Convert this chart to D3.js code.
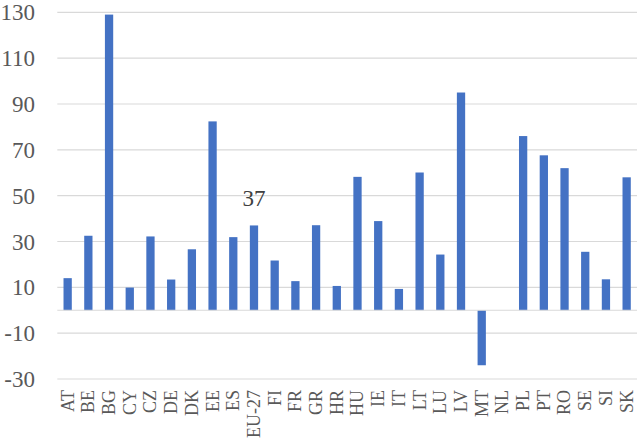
<!DOCTYPE html>
<html>
<head>
<meta charset="utf-8">
<script src="https://cdn.jsdelivr.net/npm/d3@7"></script>
<style>
  body { margin: 0; background: #fff; }
  text { font-family: "Liberation Serif", "Times New Roman", serif; }
</style>
</head>
<body>
<div id="main-content"></div>
<script>
// category codes along the x axis
const countries = ["AT","BE","BG","CY","CZ","DE","DK","EE","ES","EU-27","FI","FR","GR","HR",
  "HU","IE","IT","LT","LU","LV","MT","NL","PL","PT","RO","SE","SI","SK"];
// bar values
const values = [14, 32.5, 129, 9.9, 32.2, 13.4, 26.6, 82.4, 31.9, 37, 21.7, 12.7, 37.1, 10.6,
  58.2, 38.9, 9.3, 60.1, 24.3, 95, -24, 0, 76, 67.6, 62, 25.5, 13.5, 58];
const yTicks = [130, 110, 90, 70, 50, 30, 10, -10, -30];
const labelled = ["EU-27"];

const width = 640, height = 441;
const margin = {top: 12.3, right: 3, bottom: 62, left: 57.3};

const svg = d3.select("#main-content")
  .append("svg")
  .attr("width", width)
  .attr("height", height);

const x = d3.scaleBand()
  .domain(countries)
  .range([margin.left, width - margin.right])
  .paddingInner(0.6)
  .paddingOuter(0.3);

const y = d3.scaleLinear()
  .domain([-30, 130])
  .range([height - margin.bottom, margin.top]);

// gridlines
svg.append("g")
  .selectAll("line")
  .data(yTicks)
  .enter()
  .append("line")
  .attr("x1", margin.left)
  .attr("x2", width - margin.right)
  .attr("y1", d => y(d))
  .attr("y2", d => y(d))
  .attr("stroke", "#d9d9d9")
  .attr("stroke-width", 1.2);

// y tick labels
svg.append("g")
  .selectAll("text")
  .data(yTicks)
  .enter()
  .append("text")
  .attr("x", 35)
  .attr("y", d => y(d))
  .attr("dy", "0.35em")
  .attr("text-anchor", "end")
  .attr("fill", "#595959")
  .style("font-size", "23px")
  .text(d => d);

// bars
const data = countries.map((c, i) => ({country: c, value: values[i]}));

svg.append("g")
  .selectAll("rect")
  .data(data)
  .enter()
  .append("rect")
  .attr("x", d => x(d.country))
  .attr("width", x.bandwidth())
  .attr("y", d => y(Math.max(0, d.value)))
  .attr("height", d => Math.abs(y(d.value) - y(0)))
  .attr("fill", "#4472c4");

// zero axis line
svg.append("line")
  .attr("x1", margin.left)
  .attr("x2", width - margin.right)
  .attr("y1", y(0))
  .attr("y2", y(0))
  .attr("stroke", "#d9d9d9")
  .attr("stroke-width", 1.2);

// category labels, rotated
svg.append("g")
  .selectAll("text")
  .data(countries)
  .enter()
  .append("text")
  .attr("transform", d => `translate(${x(d) + x.bandwidth() / 2},390) rotate(-90)`)
  .attr("dy", "0.33em")
  .attr("text-anchor", "end")
  .attr("fill", "#595959")
  .style("font-size", "18px")
  .text(d => d);

// data label for EU-27
svg.append("g")
  .selectAll("text")
  .data(data.filter(d => labelled.includes(d.country)))
  .enter()
  .append("text")
  .attr("x", d => x(d.country) + x.bandwidth() / 2)
  .attr("y", d => y(d.value) - 27)
  .attr("dy", "0.35em")
  .attr("text-anchor", "middle")
  .attr("fill", "#404040")
  .style("font-size", "23px")
  .text(d => Math.round(d.value));
</script>
</body>
</html>
